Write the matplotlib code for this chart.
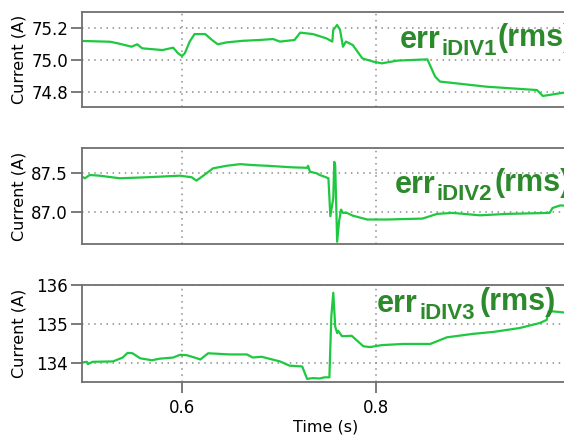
import matplotlib
matplotlib.use("Agg")
import matplotlib.pyplot as plt

# Panel 1 - errIDIV1 (rms)
t1 = [0.497, 0.526, 0.534, 0.548, 0.554, 0.559, 0.580, 0.591, 0.596, 0.600,
      0.603, 0.608, 0.613, 0.624, 0.631, 0.637, 0.646, 0.663, 0.680, 0.694,
      0.701, 0.716, 0.722, 0.735, 0.749, 0.755, 0.756, 0.760, 0.763, 0.766,
      0.769, 0.776, 0.786, 0.797, 0.806, 0.822, 0.853, 0.861, 0.866, 0.914,
      0.966, 0.972, 0.994]
i1 = [75.119, 75.114, 75.104, 75.083, 75.098, 75.073, 75.062, 75.077, 75.042, 75.025,
      75.042, 75.115, 75.162, 75.162, 75.125, 75.098, 75.110, 75.120, 75.125, 75.131,
      75.115, 75.125, 75.171, 75.162, 75.135, 75.115, 75.188, 75.219, 75.188, 75.083,
      75.115, 75.094, 75.010, 74.990, 74.979, 74.996, 75.004, 74.896, 74.865, 74.833,
      74.812, 74.775, 74.796]

# Panel 2 - errIDIV2 (rms)
t2 = [0.497, 0.500, 0.505, 0.515, 0.536, 0.564, 0.598, 0.610, 0.615, 0.624,
      0.632, 0.646, 0.660, 0.673, 0.688, 0.714, 0.729, 0.730, 0.732, 0.739,
      0.742, 0.747, 0.751, 0.753, 0.756, 0.757, 0.758, 0.760, 0.762, 0.764,
      0.766, 0.770, 0.776, 0.791, 0.811, 0.848, 0.863, 0.879, 0.907, 0.935,
      0.979, 0.982, 0.990, 0.995]
i2 = [87.449, 87.429, 87.471, 87.462, 87.429, 87.442, 87.462, 87.442, 87.399, 87.480,
      87.556, 87.589, 87.610, 87.598, 87.589, 87.569, 87.563, 87.589, 87.513, 87.492,
      87.471, 87.449, 87.429, 86.942, 87.175, 87.640, 87.598, 86.615, 86.878, 87.027,
      86.985, 86.985, 86.950, 86.900, 86.900, 86.912, 86.972, 86.985, 86.954, 86.972,
      86.985, 87.048, 87.081, 87.077]

# Panel 3 - errIDIV3 (rms)
t3 = [0.497, 0.502, 0.503, 0.508, 0.529, 0.539, 0.544, 0.549, 0.557, 0.569,
      0.577, 0.591, 0.598, 0.605, 0.613, 0.619, 0.627, 0.649, 0.667, 0.673,
      0.682, 0.701, 0.711, 0.724, 0.729, 0.735, 0.742, 0.747, 0.752, 0.754,
      0.756, 0.758, 0.760, 0.761, 0.765, 0.775, 0.787, 0.794, 0.806, 0.828,
      0.856, 0.873, 0.900, 0.921, 0.948, 0.969, 0.976, 0.978, 0.982, 0.994]
i3 = [134.00, 134.02, 133.96, 134.02, 134.03, 134.13, 134.25, 134.24, 134.11, 134.06,
      134.10, 134.13, 134.20, 134.19, 134.13, 134.08, 134.24, 134.21, 134.21, 134.13,
      134.15, 134.03, 133.92, 133.90, 133.58, 133.60, 133.59, 133.62, 133.62, 135.19,
      135.80, 134.93, 134.76, 134.82, 134.68, 134.69, 134.42, 134.40, 134.45, 134.48,
      134.48, 134.65, 134.74, 134.79, 134.89, 135.02, 135.10, 135.32, 135.32, 135.29]

subs = ["iDIV1", "iDIV2", "iDIV3"]
yticks = [[74.8, 75.0, 75.2], [87.0, 87.5], [134, 135, 136]]
ytick_labels = [["74.8", "75.0", "75.2"], ["87.0", "87.5"], ["134", "135", "136"]]
ylims = [(74.706, 75.30), (86.586, 87.817), (133.5, 136.0)]
xticks = [0.6, 0.8]

line_color = "#1ec840"
text_color = "#2c8a2c"
frame_color = "#707070"

fig = plt.figure(figsize=(5.64, 4.38), dpi=100)

# axes boxes in figure fraction (left, bottom, width, height)
boxes = [
    (0.1454, 0.7557, 0.8652, 0.2169),
    (0.1454, 0.4429, 0.8652, 0.2192),
    (0.1454, 0.1279, 0.8652, 0.2215),
]
# where "err" starts, axes fraction
label_pos = [(0.652, 0.621), (0.641, 0.531), (0.605, 0.722)]
sub_gap = [1, 1, 2]
rms_gap = [0, 2, 4]

data = [(t1, i1), (t2, i2), (t3, i3)]

for k in range(3):
    ax = fig.add_axes(boxes[k])
    t, cur = data[k]
    ax.plot(t, cur, color=line_color, linewidth=1.6)

    ax.set_xlim(0.497, 1.0)
    ax.set_ylim(*ylims[k])
    ax.set_xticks(xticks)
    ax.set_yticks(yticks[k])
    ax.set_yticklabels(ytick_labels[k])

    ax.grid(True, color="#8c8c8c", linestyle=(0, (1, 3)), linewidth=1.1)

    for side in ["left", "top", "bottom"]:
        ax.spines[side].set_color(frame_color)
        ax.spines[side].set_linewidth(1.3)
    ax.spines["right"].set_visible(False)

    ax.tick_params(axis="y", direction="out", length=8, width=1.3,
                   color=frame_color, labelsize=12, pad=2)
    if k < 2:
        ax.tick_params(axis="x", bottom=False, labelbottom=False)
    else:
        ax.tick_params(axis="x", direction="out", length=8, width=1.3,
                       color=frame_color, labelsize=12, pad=4)
        ax.set_xlabel("Time (s)", fontsize=11.5, labelpad=2)

    ax.set_ylabel("Current (A)", fontsize=11.5)
    ax.yaxis.set_label_coords(-0.113, 0.5)

    # err_iDIVn (rms) label built from three pieces
    txt = ax.text(label_pos[k][0], label_pos[k][1], "err", transform=ax.transAxes,
                  fontsize=22, fontweight="bold", color=text_color,
                  family="Liberation Sans", va="baseline", ha="left")
    sub = ax.annotate(subs[k], xy=(1, 0), xycoords=txt,
                      xytext=(sub_gap[k], 0), textcoords="offset pixels",
                      fontsize=16, fontweight="bold", color=text_color,
                      family="Liberation Sans", va="baseline", ha="left")
    ax.annotate("(rms)", xy=(1, 0), xycoords=(sub, txt),
                xytext=(rms_gap[k], 2), textcoords="offset pixels",
                fontsize=22, fontweight="bold", color=text_color,
                family="Liberation Sans", va="bottom", ha="left")

fig.savefig("out.png", dpi=100)
